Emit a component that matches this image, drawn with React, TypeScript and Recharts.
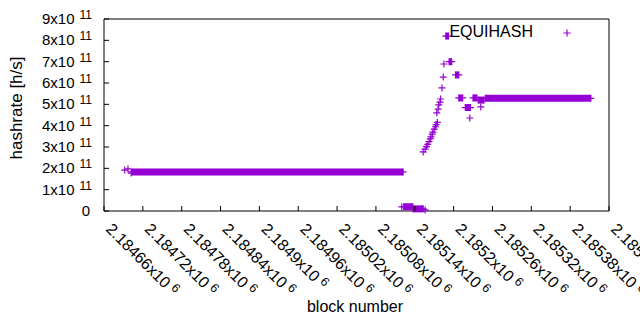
import React from 'react'
import { ComposedChart, Scatter, XAxis, YAxis, Legend } from 'recharts'

const COLOR = '#9400d3'
const FONT = '"Liberation Sans", Arial, sans-serif'

// block number ticks, every 60 blocks
const xTicks = [
  2184660, 2184720, 2184780, 2184840, 2184900, 2184960, 2185020,
  2185080, 2185140, 2185200, 2185260, 2185320, 2185380, 2185440,
]
const yTicks = [0, 1e11, 2e11, 3e11, 4e11, 5e11, 6e11, 7e11, 8e11, 9e11]

// stretches of consecutive blocks that sit on (nearly) the same hashrate
const runStart = [2184703, 2185123, 2185137, 2185188, 2185193, 2185203, 2185208, 2185218, 2185230, 2185238, 2185249]
const runEnd = [2185122, 2185137, 2185153, 2185192, 2185197, 2185208, 2185214, 2185226, 2185236, 2185247, 2185412]
const runValue = [1.83e11, 0.2e11, 0.1e11, 8.2e11, 7.0e11, 6.38e11, 5.3e11, 4.85e11, 5.3e11, 5.2e11, 5.28e11]

// single blocks off those stretches
const pointBlock = [
  2184692, 2184697, 2184702,
  2185120, 2185156,
  2185153, 2185156, 2185158, 2185160, 2185162, 2185164, 2185165,
  2185167, 2185168, 2185170, 2185172, 2185173, 2185175,
  2185174, 2185176, 2185177, 2185179, 2185180, 2185182, 2185184, 2185185,
  2185225, 2185242,
]
const pointValue = [
  1.92e11, 1.97e11, 1.78e11,
  0.19e11, 0.05e11,
  2.77e11, 2.9e11, 3.02e11, 3.12e11, 3.25e11, 3.38e11, 3.47e11,
  3.6e11, 3.7e11, 3.84e11, 3.95e11, 4.05e11, 4.15e11,
  4.6e11, 4.78e11, 4.97e11, 5.1e11, 5.25e11, 5.77e11, 6.28e11, 6.89e11,
  4.36e11, 4.88e11,
]

const points = pointBlock.map((b, i) => ({ b, v: pointValue[i] }))
const runs = runStart.map((s, i) => [
  { b: s, v: runValue[i] },
  { b: runEnd[i], v: runValue[i] },
])

const fmtBlock = (v: number) => String(parseFloat((v / 1e6).toFixed(5)))

const Cross = (p: any) => {
  const { cx, cy } = p
  if (cx == null || cy == null) return null
  return (
    <path d={`M${cx - 3.5},${cy}h7M${cx},${cy - 3.5}v7`} stroke={COLOR} strokeWidth={1.2} fill="none" />
  )
}

const BottomTick = ({ x, y, payload }: any) => {
  const tx = x + 1
  const ty = y + 19
  return (
    <g>
      <line x1={x} y1={y} x2={x} y2={y - 5} stroke="#000" />
      <text x={tx} y={ty} transform={`rotate(45 ${tx} ${ty})`} fontSize={16} fontFamily={FONT} fill="#000">
        {fmtBlock(payload.value)}x10<tspan dx={4} dy={-5} fontSize={12.5}>6</tspan>
      </text>
    </g>
  )
}

const TopTick = ({ x, y }: any) => <line x1={x} y1={y} x2={x} y2={y + 5} stroke="#000" />

const LeftTick = ({ x, y, payload }: any) => {
  const n = Math.round(payload.value / 1e11)
  return (
    <g>
      <line x1={x} y1={y} x2={x + 5} y2={y} stroke="#000" />
      {n === 0 ? (
        <text x={x - 14} y={y + 5} textAnchor="end" fontSize={15} fontFamily={FONT} fill="#000">0</text>
      ) : (
        <text x={x - 12} y={y + 5} textAnchor="end" fontSize={15} fontFamily={FONT} fill="#000">
          {n}x10<tspan dx={5} dy={-5} fontSize={12}>11</tspan>
        </text>
      )}
    </g>
  )
}

const RightTick = ({ x, y }: any) => <line x1={x} y1={y} x2={x - 5} y2={y} stroke="#000" />

const YTitle = () => (
  <text x={22} y={108} transform="rotate(-90 22 108)" textAnchor="middle" fontSize={17} fontFamily={FONT} fill="#000">
    hashrate [h/s]
  </text>
)

const XTitle = () => (
  <text x={355} y={312} textAnchor="middle" fontSize={16} fontFamily={FONT} fill="#000">
    block number
  </text>
)

const KeyBox = () => (
  <svg width={150} height={22}>
    <text x={93} y={15} textAnchor="end" fontSize={16} fontFamily={FONT} fill="#000">EQUIHASH</text>
    <path d="M123.5,11h7M127,7.5v7" stroke={COLOR} strokeWidth={1.2} fill="none" />
  </svg>
)

export default function App() {
  return (
    <div style={{ position: 'fixed', left: 0, top: 0, background: '#fff' }}>
      <ComposedChart width={640} height={330} margin={{ top: 0, right: 0, bottom: 0, left: 0 }}>
        <XAxis
          dataKey="b"
          type="number"
          domain={[2184660, 2185440]}
          ticks={xTicks}
          interval={0}
          height={119}
          tickSize={0}
          tickMargin={0}
          tick={<BottomTick />}
          axisLine={{ stroke: '#000' }}
          label={<XTitle />}
        />
        <XAxis
          xAxisId="top"
          orientation="top"
          type="number"
          domain={[2184660, 2185440]}
          ticks={xTicks}
          interval={0}
          height={19}
          tickSize={0}
          tickMargin={0}
          tick={<TopTick />}
          axisLine={{ stroke: '#000' }}
        />
        <YAxis
          dataKey="v"
          type="number"
          domain={[0, 9e11]}
          ticks={yTicks}
          interval={0}
          width={104}
          tickSize={0}
          tickMargin={0}
          tick={<LeftTick />}
          axisLine={{ stroke: '#000' }}
          label={<YTitle />}
        />
        <YAxis
          yAxisId="right"
          orientation="right"
          type="number"
          domain={[0, 9e11]}
          ticks={yTicks}
          interval={0}
          width={31}
          tickSize={0}
          tickMargin={0}
          tick={<RightTick />}
          axisLine={{ stroke: '#000' }}
        />
        <Legend
          layout="horizontal"
          verticalAlign="middle"
          align="center"
          wrapperStyle={{ position: 'absolute', left: 440, top: 22, width: 150, height: 22 }}
          content={() => <KeyBox />}
        />
        {runs.map((d, i) => (
          <Scatter
            key={i}
            data={d}
            line={{ stroke: COLOR, strokeWidth: 7 }}
            shape={<Cross />}
            fill={COLOR}
            isAnimationActive={false}
          />
        ))}
        <Scatter data={points} shape={<Cross />} fill={COLOR} isAnimationActive={false} />
      </ComposedChart>
    </div>
  )
}
